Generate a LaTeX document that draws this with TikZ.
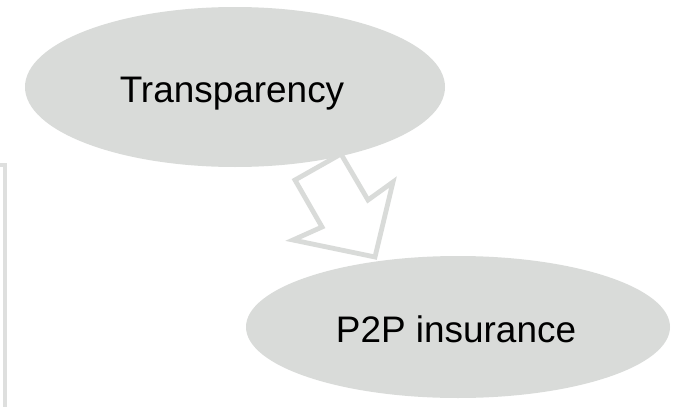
\documentclass[tikz,border=0pt]{standalone}
\usepackage{fontspec}
\setmainfont{Liberation Sans}
\usetikzlibrary{shapes.geometric}
\definecolor{ellgray}{RGB}{217,219,217}
\definecolor{bargray}{RGB}{222,223,222}
\tikzset{
  bubble/.style={ellipse, fill=ellgray, draw=none, inner sep=0pt,
    font=\fontsize{27.7pt}{32pt}\selectfont, text=black},
  blockarrow/.style={draw=ellgray, line width=3.6pt, fill=white, line join=miter},
  framebar/.style={draw=bargray, line width=3pt}
}
\begin{document}
\begin{tikzpicture}[x=0.75pt,y=-0.75pt]
\useasboundingbox (0,0) rectangle (675,407);
\clip (0,0) rectangle (675,407);
% left frame edge
\coordinate (fa) at (-10,165);
\coordinate (fb) at (5,165);
\coordinate (fc) at (5,420);
\draw[framebar] (fa) -- (fb) -- (fc);
% block arrow outline
\coordinate (a1) at (341,154);
\coordinate (a2) at (368,200);
\coordinate (a3) at (393,182);
\coordinate (a4) at (375,257);
\coordinate (a5) at (293,240);
\coordinate (a6) at (322,227);
\coordinate (a7) at (295,180);
\draw[blockarrow] (a1) -- (a2) -- (a3) -- (a4) -- (a5) -- (a6) -- (a7) -- cycle;
% ellipses
\node[bubble, minimum width=315pt, minimum height=120pt] (top) at (235,87) {};
\node[anchor=base, font=\fontsize{27.7pt}{32pt}\selectfont] (toptext) at (232,102) {Transparency};
\node[bubble, minimum width=318pt, minimum height=106.5pt] (bottom) at (458,327) {};
\node[anchor=base, font=\fontsize{27.7pt}{32pt}\selectfont] (bottomtext) at (456,342) {P2P insurance};
\end{tikzpicture}
\end{document}
